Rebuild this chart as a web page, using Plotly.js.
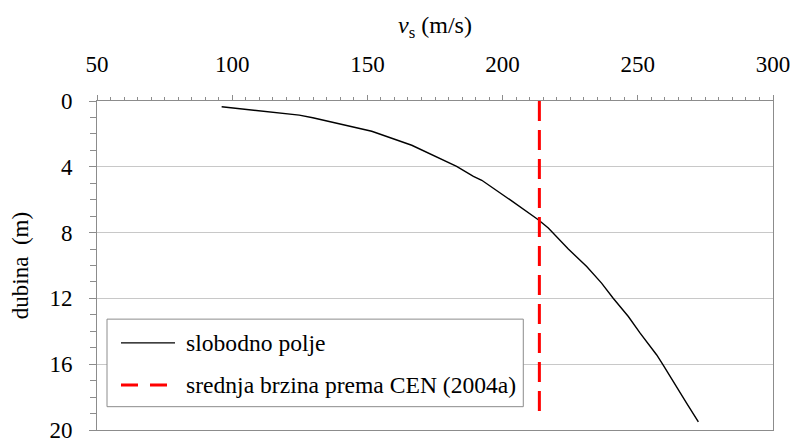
<!DOCTYPE html>
<html>
<head>
<meta charset="utf-8">
<script src="https://cdn.plot.ly/plotly-3.0.1.min.js"></script>
<style>html,body{margin:0;padding:0;background:#fff;}#chart{width:793px;height:440px;}</style>
</head>
<body>
<div id="chart"></div>
<script>
// Data
const freeFieldVs    = [96.1, 110.3, 124.8, 129.8, 151.6, 166.4, 173.2, 183.0, 189.2, 192.3, 202.7, 213.2, 216.9, 224.3, 231.1, 236.6, 240.9, 246.5, 250.8, 257.0, 259.4, 263.1, 268.1, 272.4];
const freeFieldDepth = [0.35, 0.58, 0.86, 1.02, 1.84, 2.69, 3.22, 3.97, 4.58, 4.82, 6.0, 7.22, 7.72, 9.0, 10.06, 11.07, 11.99, 13.1, 14.1, 15.44, 16.05, 17.06, 18.38, 19.5];
const cenVs    = [213.6, 213.6];
const cenDepth = [0, 19];
const seriesNames = ["slobodno polje", "srednja brzina prema CEN (2004a)"];
const xTitle = "<i>v</i><sub>s</sub> (m/s)";
const yTitle = "dubina  (m)";

const FONT = "Liberation Serif";
const AX = "#8c8c8c";

const traces = [
  {x: freeFieldVs, y: freeFieldDepth, mode: "lines", name: seriesNames[0],
   line: {color: "#000000", width: 1.4}, showlegend: false},
  {x: cenVs, y: cenDepth, mode: "lines", name: seriesNames[1],
   line: {color: "#ff0000", width: 3, dash: "20px,9px"}, showlegend: false}
];

// manual legend (paper coords)
const L = {x0: 0.0148, x1: 0.6306, y0: 0.0709, y1: 0.337};
const rows = [0.2648, 0.137];
const shapes = [
  {type: "rect", xref: "paper", yref: "paper", x0: L.x0, x1: L.x1, y0: L.y0, y1: L.y1,
   line: {color: "#8c8c8c", width: 1}, fillcolor: "#ffffff", layer: "above"},
  {type: "line", xref: "paper", yref: "paper", x0: 0.0355, x1: 0.1154, y0: rows[0], y1: rows[0],
   line: {color: "#000000", width: 1.4}},
  {type: "line", xref: "paper", yref: "paper", x0: 0.0355, x1: 0.1154, y0: rows[1], y1: rows[1],
   line: {color: "#ff0000", width: 3, dash: "17px,12px"}}
];
const annotations = seriesNames.map((t, i) => ({
  text: t, xref: "paper", yref: "paper", x: 0.1287, y: rows[i],
  xanchor: "left", yanchor: "middle", showarrow: false,
  font: {family: FONT, size: 23.6, color: "#000"}
}));

const layout = {
  width: 793, height: 440,
  margin: {l: 97, r: 20, t: 101, b: 10, pad: 0},
  paper_bgcolor: "#fff", plot_bgcolor: "#fff",
  font: {family: FONT, size: 22, color: "#000"},
  showlegend: false,
  xaxis: {
    side: "top", range: [50, 300], tick0: 50, dtick: 50,
    ticks: "outside", ticklen: 5, tickcolor: AX, tickwidth: 1,
    showline: true, linecolor: AX, linewidth: 1, mirror: true,
    showgrid: false, zeroline: false,
    minor: {dtick: 5, tick0: 50, ticks: "outside", ticklen: 3, tickcolor: AX, showgrid: false},
    tickfont: {family: FONT, size: 23, color: "#000"},
    ticklabelstandoff: 14, ticklabeloverflow: "allow",
    title: {text: xTitle, font: {family: FONT, size: 24, color: "#000"}, standoff: 11}
  },
  yaxis: {
    range: [20, 0], tick0: 0, dtick: 4,
    ticks: "outside", ticklen: 7, tickcolor: AX, tickwidth: 1,
    showline: true, linecolor: AX, linewidth: 1, mirror: true,
    showgrid: true, gridcolor: "#c8c8c8", gridwidth: 1, zeroline: false,
    minor: {dtick: 1, tick0: 0, ticks: "outside", ticklen: 6, tickcolor: AX, showgrid: false},
    tickfont: {family: FONT, size: 23, color: "#000"},
    ticklabelstandoff: 12, ticklabeloverflow: "allow",
    title: {text: yTitle, font: {family: FONT, size: 23, color: "#000"}, standoff: 14}
  },
  shapes: shapes,
  annotations: annotations
};

Plotly.newPlot("chart", traces, layout, {staticPlot: true, displayModeBar: false});
</script>
</body>
</html>
